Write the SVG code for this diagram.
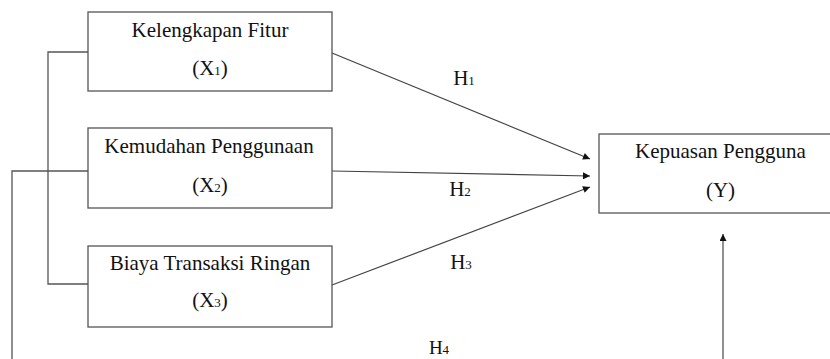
<svg xmlns="http://www.w3.org/2000/svg" width="830" height="359" viewBox="0 0 830 359">
  <style>
    .box { fill: #fff; stroke: #555; stroke-width: 1.3; }
    .lbl { font-family: "Liberation Serif", "Times New Roman", serif; font-size: 21px; fill: #111; text-anchor: middle; }
    .sub { font-size: 13px; }
    .wire { fill: none; stroke: #555; stroke-width: 1.3; }
    .arrow { fill: none; stroke: #444; stroke-width: 1.2; marker-end: url(#tip); }
  </style>
  <defs>
    <marker id="tip" viewBox="0 0 10 10" refX="10" refY="5" markerWidth="10" markerHeight="7" markerUnits="userSpaceOnUse" orient="auto">
      <path d="M0,0 L10,5 L0,10 Z" fill="#111"/>
    </marker>
  </defs>
  <rect width="830" height="359" fill="#fff"/>

  <g id="connectors">
    <!-- bracket joining X1 and X3 -->
    <path class="wire" d="M88,52 H48 V284 H88"/>
    <!-- joint path from X2 round the bottom to Y -->
    <path class="wire" d="M88,171 H12 V359"/>
    <path class="wire" d="M723,359 V234" stroke-width="2" marker-end="url(#tip)"/>
    <!-- hypothesis arrows -->
    <path class="arrow" d="M332,53 L590,159"/>
    <path class="arrow" d="M332,171 L590,176"/>
    <path class="arrow" d="M332,285 L590,187"/>
    <text class="lbl" x="464" y="85">H<tspan class="sub">1</tspan></text>
    <text class="lbl" x="460" y="196">H<tspan class="sub">2</tspan></text>
    <text class="lbl" x="461" y="269">H<tspan class="sub">3</tspan></text>
    <text class="lbl" x="439" y="354" style="font-size:19px">H<tspan class="sub">4</tspan></text>
  </g>

  <g id="x1">
    <rect class="box" x="88" y="12" width="244" height="79"/>
    <text class="lbl" x="210" y="37">Kelengkapan Fitur</text>
    <text class="lbl" x="210" y="75">(X<tspan class="sub">1</tspan>)</text>
  </g>

  <g id="x2">
    <rect class="box" x="88" y="128" width="244" height="80"/>
    <text class="lbl" x="209" y="153">Kemudahan Penggunaan</text>
    <text class="lbl" x="210" y="192">(X<tspan class="sub">2</tspan>)</text>
  </g>

  <g id="x3">
    <rect class="box" x="88" y="246" width="244" height="81"/>
    <text class="lbl" x="210" y="270">Biaya Transaksi Ringan</text>
    <text class="lbl" x="210" y="307">(X<tspan class="sub">3</tspan>)</text>
  </g>

  <g id="y">
    <rect class="box" x="599" y="134" width="250" height="79"/>
    <text class="lbl" x="720.5" y="158">Kepuasan Pengguna</text>
    <text class="lbl" x="720.5" y="197">(Y)</text>
  </g>
</svg>
